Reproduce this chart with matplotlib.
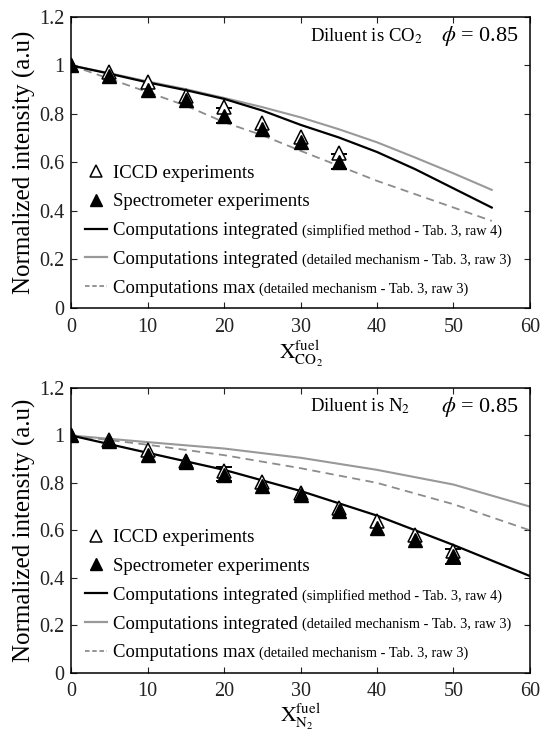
import matplotlib
matplotlib.use("Agg")
import matplotlib.pyplot as plt
from matplotlib.lines import Line2D
import numpy as np

plt.rcParams['font.family'] = ['Liberation Serif', 'DejaVu Serif']
plt.rcParams['mathtext.fontset'] = 'stix'

# ---------- data: CO2 diluent ----------
co2_x_exp = [0, 5, 10, 15, 20, 25, 30, 35]
co2_iccd = [1.0, 0.972, 0.931, 0.872, 0.828, 0.763, 0.703, 0.639]
co2_spec = [1.0, 0.956, 0.900, 0.858, 0.793, 0.738, 0.683, 0.600]
co2_err_x = [20, 35]
co2_err_y = [0.794, 0.604]
co2_err = [0.031, 0.031]

co2_x_comp = [0, 5, 10, 15, 20, 25, 30, 35, 40, 45, 50, 55]
co2_simpl = [1.0, 0.966, 0.930, 0.898, 0.862, 0.814, 0.755, 0.703, 0.643, 0.572, 0.493, 0.414]
co2_detail = [1.0, 0.968, 0.934, 0.902, 0.866, 0.828, 0.786, 0.737, 0.683, 0.620, 0.555, 0.487]
co2_max = [1.0, 0.945, 0.890, 0.834, 0.766, 0.712, 0.648, 0.586, 0.524, 0.469, 0.414, 0.359]

# ---------- data: N2 diluent ----------
n2_x_exp = [0, 5, 10, 15, 20, 25, 30, 35, 40, 45, 50]
n2_iccd = [1.0, 0.980, 0.938, 0.892, 0.851, 0.804, 0.759, 0.694, 0.639, 0.582, 0.514]
n2_spec = [1.0, 0.975, 0.917, 0.890, 0.834, 0.786, 0.749, 0.680, 0.611, 0.561, 0.490]
n2_err_x = [20, 50]
n2_err_y = [0.838, 0.49]
n2_err = [0.031, 0.031]

n2_x_comp = [0, 10, 20, 30, 40, 50, 60]
n2_simpl = [1.0, 0.927, 0.855, 0.766, 0.662, 0.538, 0.407]
n2_detail = [1.0, 0.972, 0.945, 0.906, 0.855, 0.793, 0.700]
n2_max = [1.0, 0.961, 0.917, 0.862, 0.800, 0.710, 0.600]

legend_main = ["ICCD experiments", "Spectrometer experiments",
               "Computations integrated", "Computations integrated", "Computations max"]
legend_small = ["", "", "(simplified method - Tab. 3, raw 4)",
                "(detailed mechanism - Tab. 3, raw 3)",
                "(detailed mechanism - Tab. 3, raw 3)"]

GRAY = '#999999'
DGRAY = '#8c8c8c'

fig = plt.figure(figsize=(5.43, 7.35), dpi=100)
ax1 = fig.add_axes([0.131, 0.581, 0.845, 0.396])
ax2 = fig.add_axes([0.131, 0.085, 0.845, 0.387])


def draw(ax, xe, iccd, spec, ex, ey, ee, xc, simpl, detail, mx, diluent, dil_x,
         xlabel, xlabelpad):
    xc = np.array(xc)
    ax.plot(xc, detail, color=GRAY, lw=1.5, zorder=2)
    ax.plot(xc, mx, color=DGRAY, lw=1.3, ls=(0, (4.5, 3)), zorder=2)
    ax.plot(xc, simpl, color='black', lw=1.6, zorder=3)
    ax.errorbar(ex, ey, yerr=ee, fmt='none', ecolor='black', elinewidth=1.0,
                capsize=6, capthick=1.4, zorder=4)
    ax.plot(xe, iccd, ls='none', marker='^', ms=10.5, mfc='white', mec='black',
            mew=1.1, zorder=4)
    ax.plot(xe, spec, ls='none', marker='^', ms=10.5, mfc='black', mec='black', zorder=5)
    ax.set_xlim(0, 60)
    ax.set_ylim(0, 1.2)
    ax.set_xticks([0, 10, 20, 30, 40, 50, 60])
    ax.set_yticks([0, 0.2, 0.4, 0.6, 0.8, 1.0, 1.2])
    ax.set_yticklabels(['0', '0.2', '0.4', '0.6', '0.8', '1', '1.2'])
    ax.tick_params(direction='in', top=True, right=True, labelsize=14.5, length=4,
                   width=0.8, colors='#222222')
    ax.tick_params(axis='x', pad=7)
    ax.tick_params(axis='y', pad=5)
    for s in ax.spines.values():
        s.set_linewidth(1.1)
    ax.set_ylabel('Normalized intensity (a.u)', fontsize=18, labelpad=2)
    ax.set_xlabel(xlabel, fontsize=15.5, labelpad=xlabelpad)
    ax.text(dil_x, 0.935, diluent, transform=ax.transAxes, fontsize=13.5,
            ha='left', va='center')
    ax.text(0.975, 0.935, r'$\phi$ = 0.85', transform=ax.transAxes, fontsize=16,
            ha='right', va='center')

    handles = [
        Line2D([], [], ls='none', marker='^', ms=8, mfc='white', mec='black', mew=1.1),
        Line2D([], [], ls='none', marker='^', ms=8, mfc='black', mec='black'),
        Line2D([], [], color='black', lw=1.6),
        Line2D([], [], color=GRAY, lw=1.6),
        Line2D([], [], color=DGRAY, lw=1.3, ls=(0, (2.5, 1.5))),
    ]
    leg = ax.legend(handles, legend_main, loc='lower left', bbox_to_anchor=(0.005, 0.0),
                    frameon=False, fontsize=13.5, handlelength=1.2, handletextpad=0.3,
                    labelspacing=0.62, borderaxespad=0.2)
    return leg


leg1 = draw(ax1, co2_x_exp, co2_iccd, co2_spec, co2_err_x, co2_err_y, co2_err,
            co2_x_comp, co2_simpl, co2_detail, co2_max,
            r'Diluent is CO$_2$', 0.52, r'$\mathrm{X}_{\mathrm{CO}_2}^{\mathrm{fuel}}$', 1)
leg2 = draw(ax2, n2_x_exp, n2_iccd, n2_spec, n2_err_x, n2_err_y, n2_err,
            n2_x_comp, n2_simpl, n2_detail, n2_max,
            r'Diluent is N$_2$', 0.52, r'$\mathrm{X}_{\mathrm{N}_2}^{\mathrm{fuel}}$', 0)

fig.canvas.draw()
renderer = fig.canvas.get_renderer()
inv = fig.transFigure.inverted()
for leg in (leg1, leg2):
    for t, small in zip(leg.get_texts(), legend_small):
        if not small:
            continue
        bb = t.get_window_extent(renderer)
        x0, y0 = inv.transform((bb.x1 + 4, bb.y0 + 0.25 * bb.height))
        fig.text(x0, y0, small, fontsize=10.3, ha='left', va='baseline')

fig.savefig('out.png', dpi=100)
